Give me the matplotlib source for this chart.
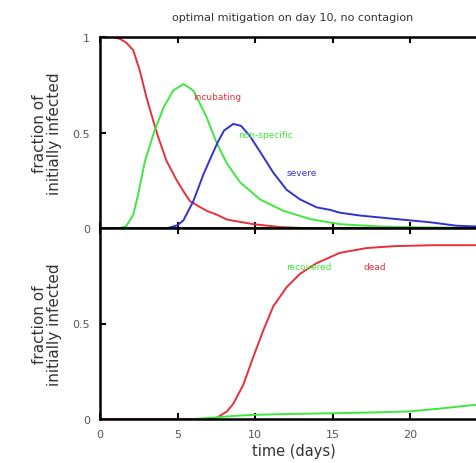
import numpy as np
import matplotlib
matplotlib.use("Agg")
import matplotlib.pyplot as plt

# ---- data ----
inc_t = [0, 0.8, 1.3, 1.7, 2.15, 2.58, 3.01, 3.44, 3.76, 4.3, 4.95, 5.4, 5.81, 6.45, 6.88, 7.53, 8.17, 8.6, 9.9, 11.6, 13.0, 25]
inc_y = [1.0, 1.0, 0.99, 0.97, 0.93, 0.82, 0.68, 0.56, 0.475, 0.35, 0.25, 0.19, 0.14, 0.11, 0.09, 0.07, 0.045, 0.038, 0.02, 0.005, 0.0, 0.0]

non_t = [0, 1.3, 1.7, 2.15, 2.47, 2.9, 3.44, 4.09, 4.73, 5.38, 6.02, 6.45, 6.88, 7.53, 8.17, 9.03, 10.32, 11.83, 13.55, 15.48, 18.0, 21.0, 25]
non_y = [0, 0, 0.01, 0.07, 0.18, 0.35, 0.49, 0.63, 0.72, 0.754, 0.72, 0.65, 0.58, 0.445, 0.34, 0.24, 0.15, 0.09, 0.047, 0.02, 0.008, 0.003, 0.0]

sev_t = [4.4, 5.0, 5.38, 6.02, 6.67, 7.1, 7.6, 8.0, 8.6, 9.1, 9.68, 10.32, 11.18, 12.04, 12.9, 13.98, 14.84, 15.48, 16.8, 19.1, 21.3, 23.0, 24.3, 25]
sev_y = [0, 0.015, 0.04, 0.14, 0.28, 0.36, 0.45, 0.51, 0.545, 0.535, 0.48, 0.40, 0.29, 0.20, 0.15, 0.108, 0.095, 0.08, 0.065, 0.047, 0.03, 0.012, 0.008, 0.005]

dead_t = [0, 7.4, 7.74, 8.2, 8.6, 9.25, 9.89, 10.54, 11.18, 12.04, 12.9, 13.98, 15.48, 17.2, 19.0, 21.5, 25]
dead_y = [0, 0, 0.017, 0.04, 0.08, 0.18, 0.325, 0.465, 0.59, 0.69, 0.76, 0.816, 0.87, 0.895, 0.905, 0.91, 0.91]

rec_t = [6.0, 7, 8, 9, 10, 12, 15, 18, 20, 22, 24.3, 25]
rec_y = [0, 0.005, 0.012, 0.018, 0.022, 0.026, 0.03, 0.035, 0.04, 0.055, 0.075, 0.08]

title = "optimal mitigation on day 10, no contagion"
ylab = "fraction of\ninitially infected"
xlab = "time (days)"

RED = "#e8303a"
GREEN = "#3ee83e"
BLUE = "#3232d2"
GRAY = "#555555"

W, H = 477, 464
fig = plt.figure(figsize=(W / 100, H / 100), dpi=100)

left = 100 / W
width = 387.5 / W
y_top = (H - 38) / H
y_mid = (H - 229) / H
y_bot = (H - 420) / H

ax1 = fig.add_axes([left, y_mid, width, y_top - y_mid])
ax2 = fig.add_axes([left, y_bot, width, y_mid - y_bot])

for ax in (ax1, ax2):
    ax.set_xlim(0, 25)
    ax.set_ylim(0, 1)
    for s in ax.spines.values():
        s.set_linewidth(1.8)
        s.set_color("black")
    ax.tick_params(direction="in", length=4, width=1.5, colors="black",
                   labelcolor=GRAY, labelsize=8, pad=7)
    ax.tick_params(top=True, right=True)
    ax.set_xticks([0, 5, 10, 15, 20])
    ax.set_yticks([0, 0.5, 1])
    ax.set_yticklabels(["0", "0.5", "1"])
    ax.set_ylabel(ylab, fontsize=11, color="#333333", labelpad=8, linespacing=0.95)

ax1.tick_params(labelbottom=False)
ax2.set_yticks([0, 0.5])
ax2.set_yticklabels(["0", "0.5"])
ax2.set_xticklabels(["0", "5", "10", "15", "20"])
ax2.set_xlabel(xlab, fontsize=10.5, color="#333333", labelpad=3)

lw = 1.4
kw = dict(lw=lw, solid_joinstyle="round", solid_capstyle="round")
ax1.plot(inc_t, inc_y, color=RED, **kw)
ax1.plot(non_t, non_y, color=GREEN, **kw)
ax1.plot(sev_t, sev_y, color=BLUE, **kw)
ax1.text(6.0, 0.69, "incubating", color=RED, fontsize=6.5, va="center")
ax1.text(8.9, 0.49, "non-specific", color=GREEN, fontsize=6.5, va="center")
ax1.text(12.05, 0.29, "severe", color=BLUE, fontsize=6.5, va="center")

ax2.plot(dead_t, dead_y, color=RED, **kw)
ax2.plot(rec_t, rec_y, color=GREEN, **kw)
ax2.text(12.0, 0.80, "recovered", color=GREEN, fontsize=6.5, va="center")
ax2.text(17.0, 0.80, "dead", color=RED, fontsize=6.5, va="center")

fig.text(293 / W, (H - 18) / H, title, ha="center", va="center",
         fontsize=8, color="#333333")

fig.savefig("out.png", dpi=100)
